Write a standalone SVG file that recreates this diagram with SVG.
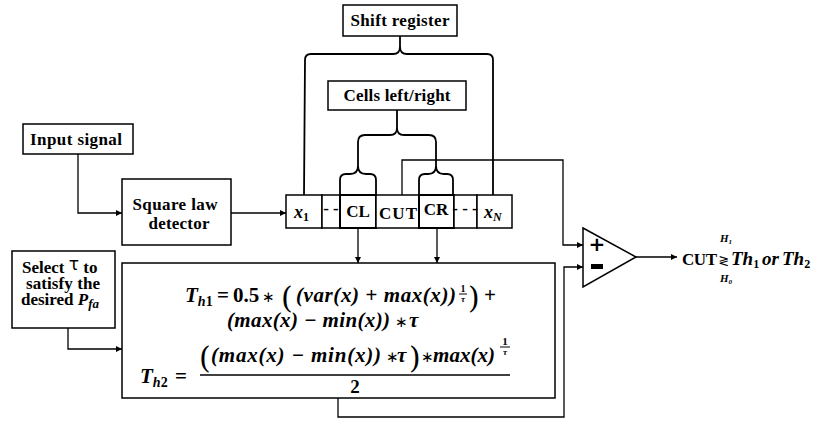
<svg xmlns="http://www.w3.org/2000/svg" width="817" height="421" viewBox="0 0 817 421">
<defs>
<marker id="arr" viewBox="0 0 10 10" refX="10" refY="5" markerWidth="6" markerHeight="6" markerUnits="userSpaceOnUse" orient="auto"><path d="M0,0 L10,5 L0,10 z" fill="#000"/></marker>
<style>
.box{fill:#fff;stroke:#000;stroke-width:1.5}
.ln{fill:none;stroke:#000;stroke-width:1.3}
.br{fill:none;stroke:#000;stroke-width:1.8}
.lab{font-family:"Liberation Serif","Times New Roman",serif;font-weight:bold;font-size:17px;fill:#000}
.m{font-family:"Liberation Serif","Times New Roman",serif;font-weight:bold;font-style:italic;fill:#000}
.mu{font-family:"Liberation Serif","Times New Roman",serif;font-weight:bold;fill:#000}
.paren{font-family:"DejaVu Serif","Liberation Serif",serif;font-weight:normal;fill:#000}
.ast{font-style:normal;font-weight:normal;font-size:15px}
</style>
</defs>
<rect width="817" height="421" fill="#fff"/>

<g id="connectors">
<path class="br" d="M400,36 L400,47 Q400,54 393,54 L311,54 Q305,54 305,60 L304,195"/>
<path class="br" d="M400,47 Q400,54 407,54 L487,54 Q493,54 493,60 L493,195"/>
<path class="br" d="M397,110 L397,128 Q397,135 390,135 L365,135 Q358,135 358,142 L358,166 Q358,174 350,174 L346,174 Q340,174 340,180 L340,195"/>
<path class="br" d="M358,166 Q358,174 366,174 L370,174 Q376,174 376,180 L376,195"/>
<path class="br" d="M397,128 Q397,135 404,135 L429,135 Q436,135 436,142 L436,166 Q436,174 428,174 L425,174 Q419,174 419,180 L419,195"/>
<path class="br" d="M436,166 Q436,174 444,174 L447,174 Q453,174 453,180 L453,195"/>
<path class="ln" d="M78,154 L78,213 L122,213" marker-end="url(#arr)"/>
<path class="ln" d="M231,213 L286,213" marker-end="url(#arr)"/>
<path class="ln" d="M68,328 L68,349 L122,349" marker-end="url(#arr)"/>
<path class="ln" d="M358,228 L358,263" marker-end="url(#arr)"/>
<path class="ln" d="M437,228 L437,263" marker-end="url(#arr)"/>
<path class="ln" d="M402,195 L402,160 L563,160 L563,245 L583,245" marker-end="url(#arr)"/>
<path class="ln" d="M338,398 L338,417 L564,417 L564,267 L583,267" marker-end="url(#arr)"/>
<path class="ln" d="M636,257 L677,257" marker-end="url(#arr)"/>
</g>

<g id="shift-register">
<rect class="box" x="343" y="5" width="114" height="31"/>
<text class="lab" x="400" y="26" text-anchor="middle" textLength="99">Shift register</text>
</g>

<g id="cells-left-right">
<rect class="box" x="328" y="81" width="138" height="29"/>
<text class="lab" x="397" y="101" text-anchor="middle" textLength="107">Cells left/right</text>
</g>

<g id="input-signal">
<rect class="box" x="23" y="124" width="110" height="30"/>
<text class="lab" x="76" y="145" text-anchor="middle" textLength="92">Input signal</text>
</g>

<g id="square-law-detector">
<rect class="box" x="122" y="179" width="109" height="66"/>
<text class="lab" x="175" y="210" text-anchor="middle" textLength="85">Square law</text>
<text class="lab" x="179" y="229" text-anchor="middle" textLength="61">detector</text>
</g>

<g id="cells">
<rect class="box" x="286" y="195" width="36" height="33"/>
<rect class="box" x="322" y="195" width="18" height="33"/>
<rect class="box" x="340" y="195" width="36" height="33" style="stroke-width:2"/>
<rect class="box" x="376" y="195" width="43" height="33"/>
<rect class="box" x="419" y="195" width="35" height="33" style="stroke-width:2"/>
<rect class="box" x="454" y="195" width="23" height="33"/>
<rect class="box" x="477" y="195" width="35" height="33"/>
<text class="m" x="294" y="218" font-size="18">x<tspan class="mu" font-style="normal" font-size="12" dy="3">1</tspan></text>
<text class="lab" x="331" y="214" text-anchor="middle" font-size="14">- -</text>
<text class="lab" x="358" y="217" text-anchor="middle" font-size="18">CL</text>
<text class="lab" x="398" y="219" text-anchor="middle" font-size="18" textLength="38">CUT</text>
<text class="lab" x="436" y="215" text-anchor="middle" font-size="18">CR</text>
<text class="lab" x="465" y="214" text-anchor="middle" font-size="13">- - -</text>
<text class="m" x="484" y="218" font-size="18">x<tspan font-size="12" dy="3">N</tspan></text>
</g>

<g id="comparator">
<path d="M583,228 L636,257 L583,287 Z" fill="#fff" stroke="#000" stroke-width="1.5"/>
<text x="597" y="251" text-anchor="middle" font-family="DejaVu Sans,sans-serif" font-weight="bold" font-size="20">+</text>
<rect x="591" y="264" width="12" height="5" fill="#000"/>
</g>

<g id="output">
<text class="lab" x="682" y="265" font-size="19" textLength="35">CUT</text>
<text x="724" y="265" text-anchor="middle" font-size="13" font-family="DejaVu Sans,sans-serif">≷</text>
<text class="m" x="726" y="242" text-anchor="middle" font-size="11" font-weight="normal">H<tspan font-size="7" dy="2">1</tspan></text>
<text class="m" x="726" y="282" text-anchor="middle" font-size="11" font-weight="normal">H<tspan font-size="7" dy="2">0</tspan></text>
<text class="m" x="731" y="265" font-size="19">Th<tspan font-style="normal" font-size="12" dy="3">1</tspan></text>
<text class="m" x="762" y="265" font-size="19">or</text>
<text class="m" x="782" y="265" font-size="19">Th<tspan font-style="normal" font-size="12" dy="3">2</tspan></text>
</g>

<g id="select-tau">
<rect class="box" x="12" y="251" width="103" height="77"/>
<text class="lab" x="22" y="273">Select <tspan font-family="DejaVu Sans,sans-serif" font-weight="normal" font-size="17" dy="-3">τ</tspan><tspan dy="3"> to</tspan></text>
<text class="lab" x="63" y="289" text-anchor="middle" textLength="74">satisfy the</text>
<text class="lab" x="21" y="305">desired <tspan font-style="italic">P</tspan><tspan font-style="italic" font-size="13" dy="3">fa</tspan></text>
</g>

<g id="threshold-box">
<rect class="box" x="122" y="263" width="433" height="135"/>
<text class="m" x="185" y="302" font-size="21">T<tspan font-size="14" dy="4">h</tspan><tspan class="mu" font-style="normal" font-size="14">1</tspan></text>
<text class="mu" x="217" y="302" font-size="21">=</text>
<text class="mu" x="233" y="302" font-size="21">0.5</text>
<text class="mu ast" x="262" y="302">∗</text>
<text class="paren" x="281" y="308" font-size="30">(</text>
<text class="m" x="296" y="302" font-size="21" textLength="160">(var(x) + max(x))</text>
<text class="mu" x="463" y="292" font-size="10" text-anchor="middle">1</text>
<line x1="459" y1="294" x2="467" y2="294" stroke="#000" stroke-width="1"/>
<text class="m" x="463" y="302" font-size="9" text-anchor="middle">τ</text>
<text class="paren" x="468" y="308" font-size="30">)</text>
<text class="mu" x="484" y="302" font-size="21">+</text>
<text class="m" x="227" y="327" font-size="21" textLength="163">(max(x) − min(x))</text>
<text class="mu ast" x="395" y="327">∗</text>
<text class="m" x="409" y="327" font-size="21">τ</text>
<text class="m" x="140" y="383" font-size="21">T<tspan font-size="14" dy="4">h</tspan><tspan class="mu" font-style="normal" font-size="14">2</tspan></text>
<text class="mu" x="175" y="383" font-size="21">=</text>
<text class="paren" x="199" y="368" font-size="30">(</text>
<text class="m" x="211" y="362" font-size="21" textLength="170">(max(x) − min(x))</text>
<text class="mu ast" x="386" y="362">∗</text>
<text class="m" x="397" y="362" font-size="21">τ</text>
<text class="paren" x="409" y="368" font-size="30">)</text>
<text class="mu ast" x="421" y="362">∗</text>
<text class="m" x="433" y="362" font-size="21" textLength="62">max(x)</text>
<text class="mu" x="505" y="345" font-size="11" text-anchor="middle">1</text>
<line x1="500" y1="347" x2="510" y2="347" stroke="#000" stroke-width="1"/>
<text class="m" x="505" y="355" font-size="9" text-anchor="middle">τ</text>
<line x1="200" y1="375" x2="510" y2="375" stroke="#000" stroke-width="1.5"/>
<text class="mu" x="355" y="393" font-size="19" text-anchor="middle">2</text>
</g>
</svg>
